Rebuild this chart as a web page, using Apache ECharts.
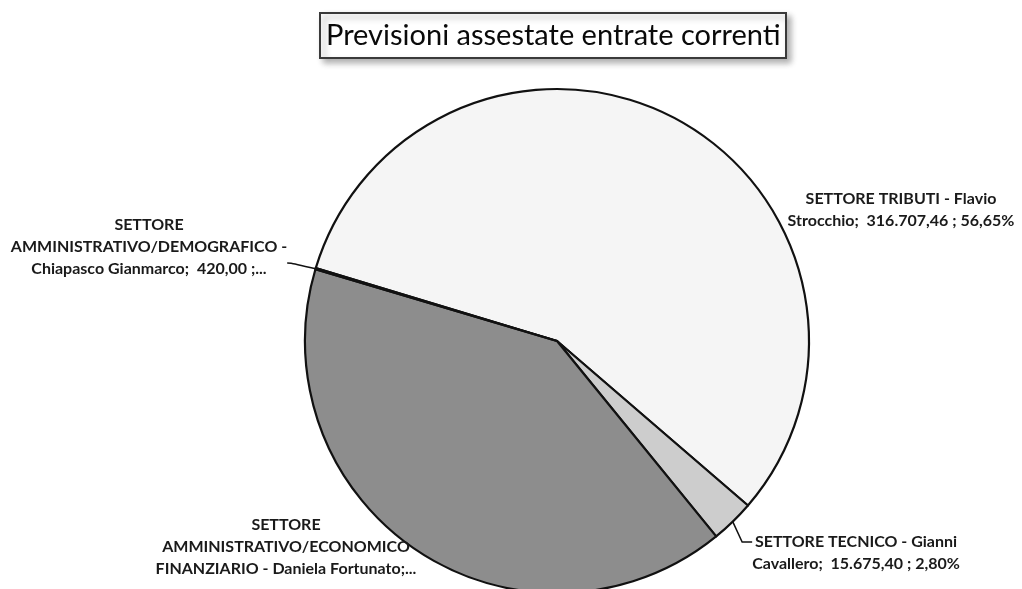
<!DOCTYPE html>
<html>
<head>
<meta charset="utf-8">
<script src="https://cdn.jsdelivr.net/npm/echarts@6/dist/echarts.min.js"></script>
<style>
html,body{margin:0;padding:0;background:#fff;}
#c{width:1022px;height:589px;}
</style>
</head>
<body>
<div id="c"></div>
<script>
// ---- data ----
var titleText = "Previsioni assestate entrate correnti";
var categories = [
  "SETTORE TRIBUTI - Flavio Strocchio",
  "SETTORE TECNICO - Gianni Cavallero",
  "SETTORE AMMINISTRATIVO/ECONOMICO FINANZIARIO - Daniela Fortunato",
  "SETTORE AMMINISTRATIVO/DEMOGRAFICO - Chiapasco Gianmarco"
];
var values = [316707.46, 15675.40, 226258.00, 420.00];
var labelTemplates = [
  "SETTORE TRIBUTI - Flavio\nStrocchio;  {v} ; {p}",
  "SETTORE TECNICO - Gianni\nCavallero;  {v} ; {p}",
  "SETTORE\nAMMINISTRATIVO/ECONOMICO\nFINANZIARIO - Daniela Fortunato;...",
  "SETTORE\nAMMINISTRATIVO/DEMOGRAFICO -\nChiapasco Gianmarco;  {v} ;..."
];

// ---- styles / layout ----
var colors = ['#f5f5f5', '#cdcdcd', '#8d8d8d', '#6a6a6a'];
// anchor of each label box (box includes invisible spacer lines that
// move the leader-line attachment point)
var labelPos = [
  {x: 901, y: 210},
  {x: 856, y: 542},
  {x: 286, y: 547},
  {x: 149, y: 263}
];
var spacerBefore = [false, true, false, false];
var spacerAfter = [false, false, false, true];
var showLine = [false, true, false, true];
var lineLen2 = [5, 10, 5, 4];

function fmtNum(v) {
  var s = v.toFixed(2).split('.');
  s[0] = s[0].replace(/\B(?=(\d{3})+(?!\d))/g, '.');
  return s[0] + ',' + s[1];
}

var chart = echarts.init(document.getElementById('c'));
chart.setOption({
  animation: false,
  backgroundColor: '#ffffff',
  title: {
    text: titleText,
    left: 320,
    top: 13,
    padding: [8, 6, 8, 6],
    borderColor: '#3a3a3a',
    borderWidth: 2,
    backgroundColor: '#ffffff',
    shadowColor: 'rgba(0,0,0,0.3)',
    shadowBlur: 6,
    shadowOffsetX: 4,
    shadowOffsetY: 4,
    textStyle: {
      fontFamily: 'Lato',
      fontWeight: 'normal',
      fontSize: 29,
      color: '#0a0a0a'
    }
  },
  series: [{
    type: 'pie',
    center: [557, 341],
    radius: 252,
    startAngle: 163.2,
    clockwise: true,
    avoidLabelOverlap: false,
    percentPrecision: 2,
    itemStyle: {borderColor: '#111', borderWidth: 2.2},
    label: {
      show: true,
      position: 'outside',
      fontFamily: 'Lato',
      fontWeight: 'bold',
      fontSize: 16,
      lineHeight: 22,
      color: '#1a1a1a',
      align: 'center',
      rich: {
        gapA: {fontSize: 4, lineHeight: 22},
        gapB: {fontSize: 4, lineHeight: 32}
      },
      formatter: function (p) {
        var i = p.dataIndex;
        var t = labelTemplates[i]
          .replace('{v}', fmtNum(p.value))
          .replace('{p}', p.percent.toFixed(2).replace('.', ',') + '%');
        if (spacerBefore[i]) t = '{gapA| }\n' + t;
        if (spacerAfter[i]) t = t + '\n{gapB| }';
        return t;
      }
    },
    labelLine: {
      show: true,
      length: 8,
      length2: 5,
      lineStyle: {color: '#111', width: 1.5}
    },
    labelLayout: function (params) {
      var lp = labelPos[params.dataIndex];
      return {x: lp.x, y: lp.y, align: 'center', verticalAlign: 'middle'};
    },
    data: values.map(function (v, i) {
      return {
        name: categories[i],
        value: v,
        itemStyle: {color: colors[i]},
        labelLine: {show: showLine[i], length2: lineLen2[i], smooth: i === 3 ? 0.3 : 0}
      };
    })
  }]
});
</script>
</body>
</html>
